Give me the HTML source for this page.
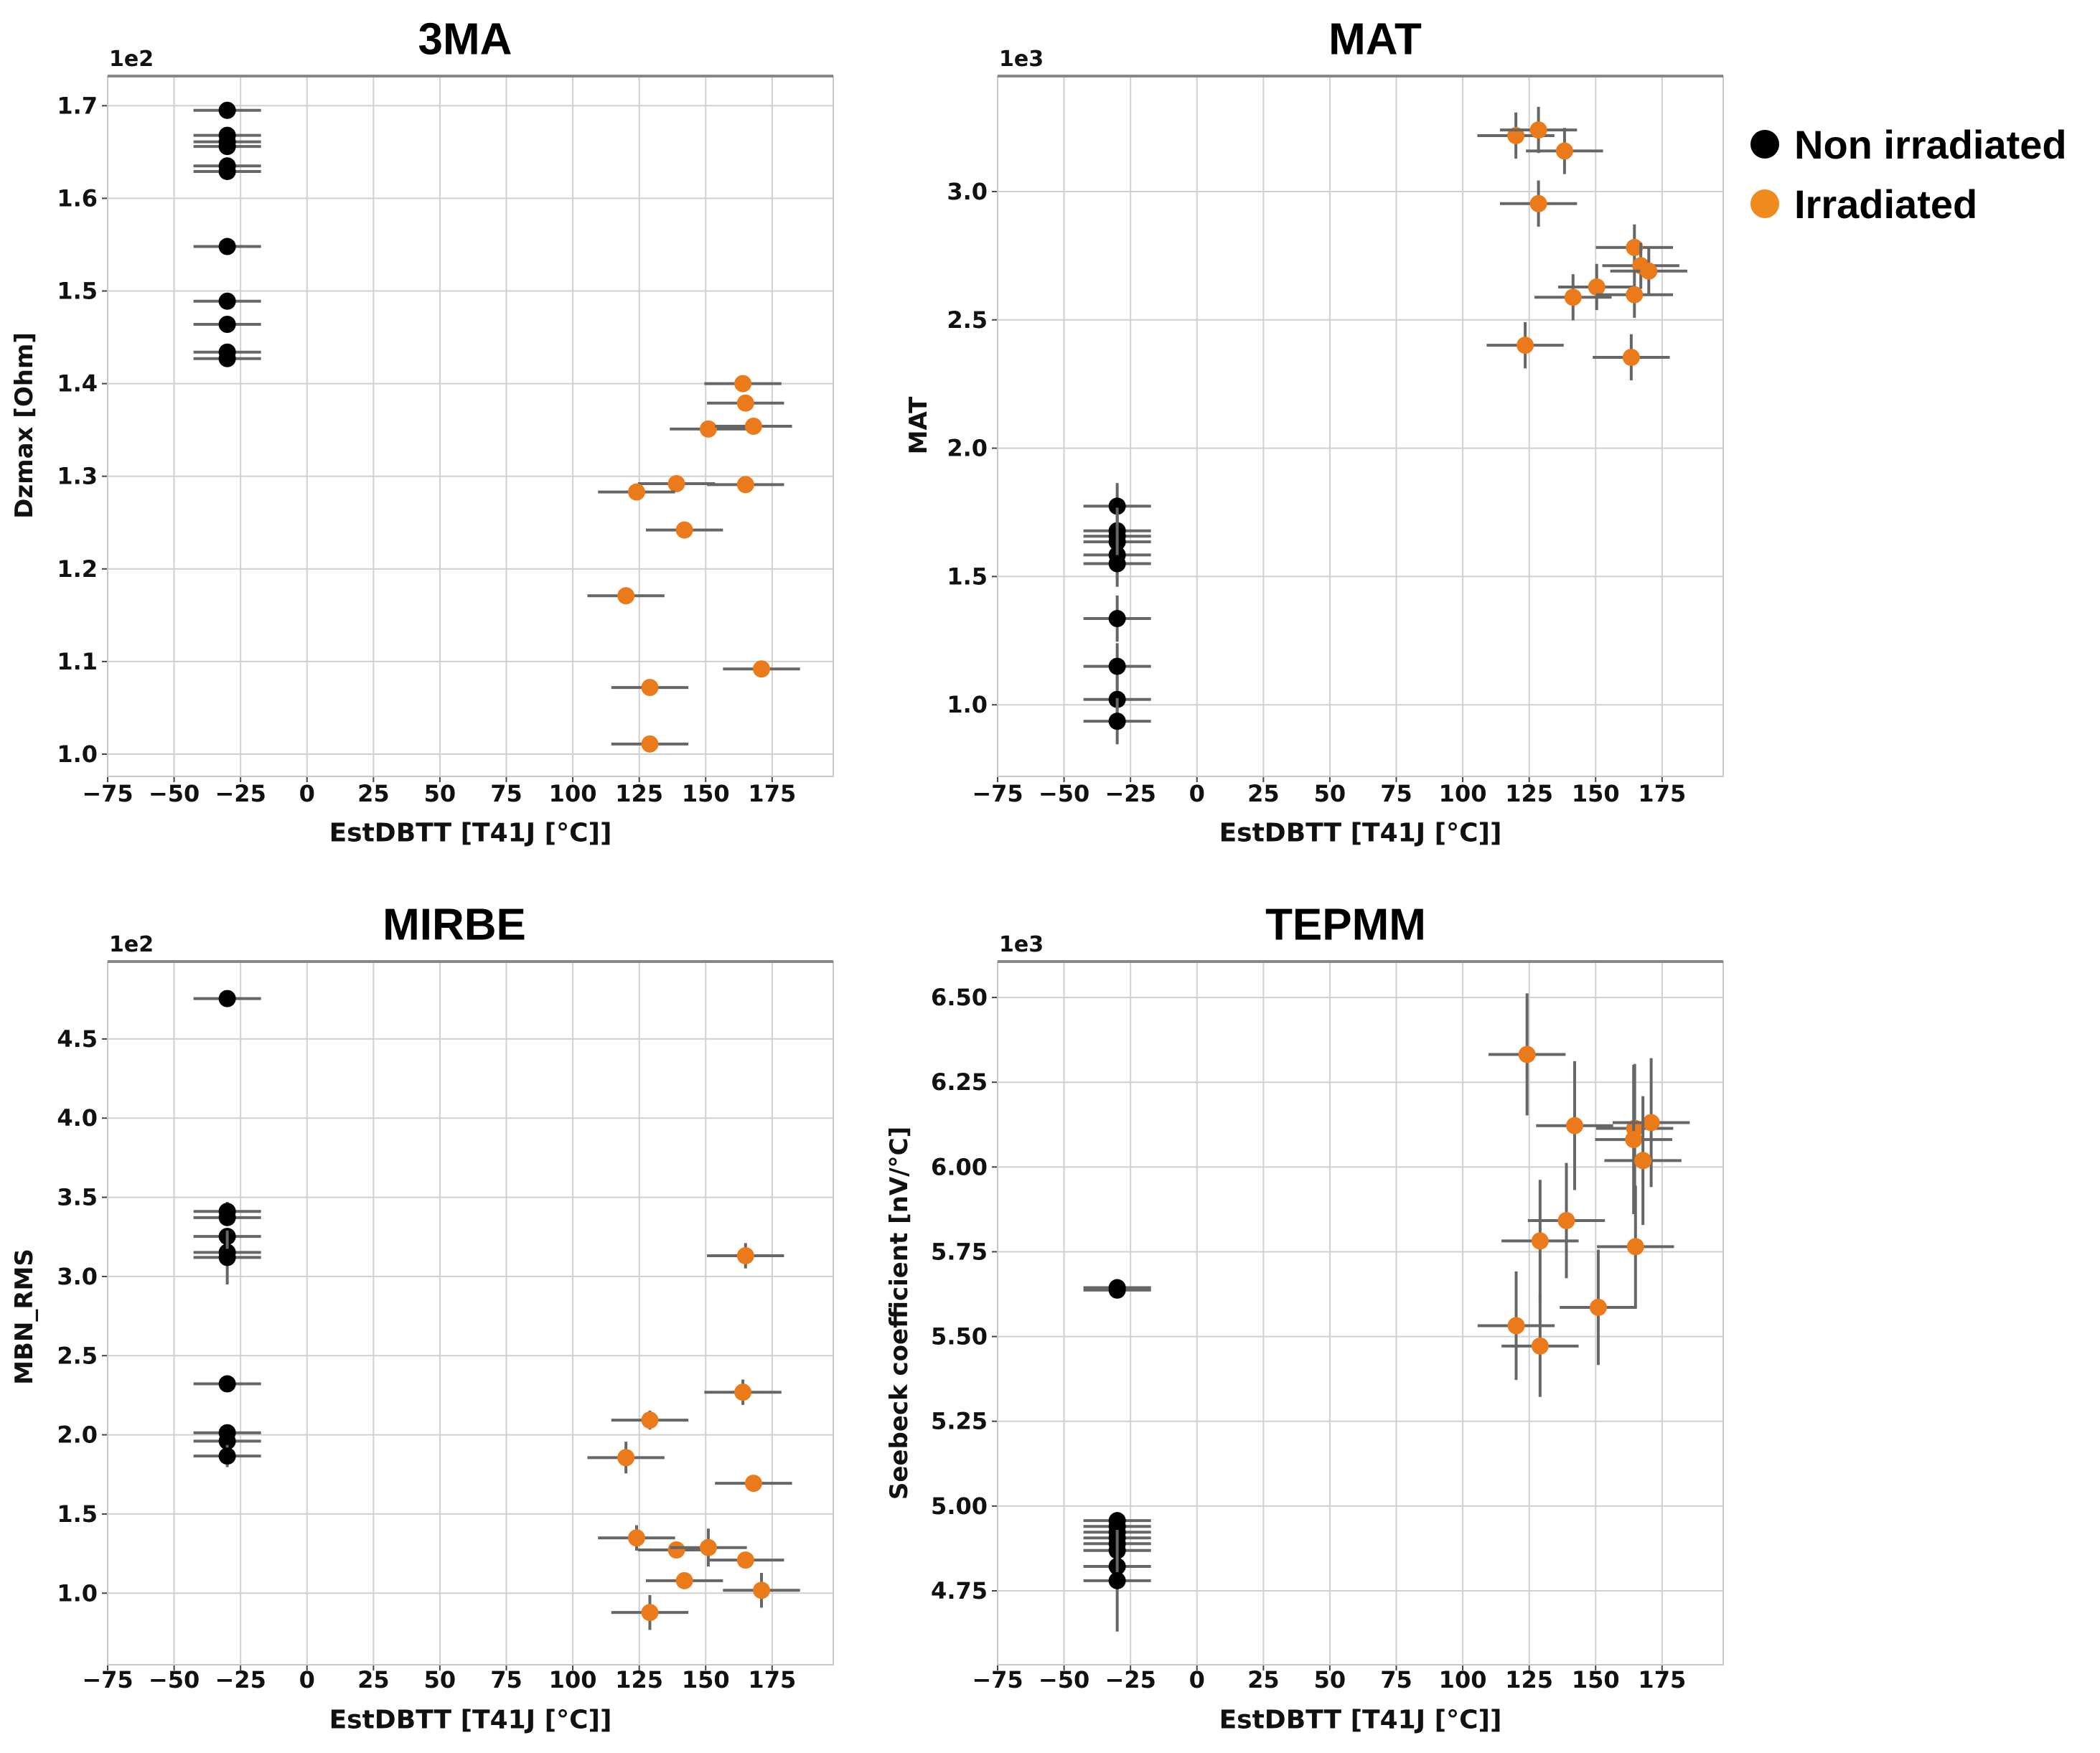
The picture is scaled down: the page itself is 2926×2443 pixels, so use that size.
<!DOCTYPE html>
<html><head><meta charset="utf-8"><style>
html,body{margin:0;padding:0;background:#fff;}
svg{display:block;font-family:"Liberation Sans",sans-serif;}
</style></head><body>
<svg id="chart" width="2926" height="2443" viewBox="0 0 2926 2443" xmlns="http://www.w3.org/2000/svg">
<rect width="2926" height="2443" fill="#fff"/>
<g>
<g><circle cx="2459" cy="201" r="20" fill="#000"/><text x="2500" y="221" font-size="56" font-weight="bold" fill="#000">Non irradiated</text></g>
<g><circle cx="2459" cy="284" r="20" fill="#f08a1c"/><text x="2500" y="304" font-size="56" font-weight="bold" fill="#000">Irradiated</text></g>
</g>
</svg>
<script>
// ---- data ----
const xTicks = [-75,-50,-25,0,25,50,75,100,125,150,175];
// Panel 1: 3MA
const p1NonY = [1.695,1.668,1.661,1.656,1.635,1.629,1.548,1.489,1.464,1.434,1.427];
const p1IrrX = [164,165,151,168,139,165,124,142,120,171,129,129];
const p1IrrY = [1.400,1.379,1.351,1.354,1.292,1.291,1.283,1.242,1.171,1.092,1.072,1.011];
const p1YTicks = [1.0,1.1,1.2,1.3,1.4,1.5,1.6,1.7];
// Panel 2: MAT
const p2NonY = [1.774,1.678,1.657,1.635,1.584,1.550,1.336,1.150,1.021,0.936];
const p2IrrX = [120,128.5,138.3,128.5,164.6,167,170,150.4,141.5,164.6,123.5,163.4];
const p2IrrY = [3.218,3.240,3.158,2.953,2.782,2.711,2.690,2.628,2.588,2.598,2.401,2.354];
const p2YTicks = [1.0,1.5,2.0,2.5,3.0];
// Panel 3: MIRBE
const p3NonY = [4.755,3.411,3.372,3.253,3.152,3.120,2.322,2.013,1.960,1.866];
const p3NonErr = [0.03,0.06,0.04,0.04,0.04,0.17,0.03,0.04,0.04,0.07];
const p3IrrX = [165,164,129,120,168,124,139,151,165,142,171,129];
const p3IrrY = [3.131,2.269,2.093,1.856,1.694,1.349,1.273,1.288,1.209,1.079,1.018,0.878];
const p3IrrErr = [0.08,0.08,0.06,0.1,0.04,0.08,0.05,0.12,0.04,0.05,0.11,0.11];
const p3YTicks = [1.0,1.5,2.0,2.5,3.0,3.5,4.0,4.5];
// Panel 4: TEPMM
const p4NonY = [5.644,5.637,4.957,4.940,4.923,4.906,4.889,4.869,4.822,4.780];
const p4NonErr = [0.01,0.01,0.01,0.01,0.01,0.01,0.01,0.01,0.02,0.15];
const p4IrrX = [124.2,142.1,164.7,164.3,170.9,167.8,139,129.1,165,151,120.1,129.1];
const p4IrrY = [6.332,6.122,6.114,6.081,6.131,6.019,5.842,5.782,5.765,5.586,5.532,5.472];
const p4IrrErr = [0.18,0.19,0.19,0.22,0.19,0.19,0.17,0.18,0.18,0.17,0.16,0.15];
const p4YTicks = [4.75,5.0,5.25,5.5,5.75,6.0,6.25,6.5];

const NS="http://www.w3.org/2000/svg";
const svg=document.getElementById('chart');
const DJ='"DejaVu Sans","Liberation Sans",sans-serif';
function mk(tag,attrs,parent){const e=document.createElementNS(NS,tag);for(const k in attrs)e.setAttribute(k,attrs[k]);parent.appendChild(e);return e;}

function panel(o){
  const g=mk('g',{},svg);
  
  
  const L=o.left,R=o.left+1011,T=o.top,B=o.bottom;
  const xmin=-75,xmax=198;
  const sx=v=>L+(v-xmin)/(xmax-xmin)*(R-L);
  const sy=v=>B-(v-o.ymin)/(o.ymax-o.ymin)*(B-T);
  xTicks.forEach(t=>{
    const l=mk('line',{x1:sx(t),x2:sx(t),y1:T,y2:B,stroke:'#d0d0d0','stroke-width':2},g);
    
    
    const tk=mk('line',{x1:sx(t),x2:sx(t),y1:B,y2:B+8,stroke:'#444','stroke-width':2},g);
    
    
    const tx=mk('text',{x:sx(t),y:o.xTickY,'font-size':32,'font-weight':'bold','font-family':DJ,'text-anchor':'middle','dominant-baseline':'central',fill:'#111'},g);
    tx.textContent=(t<0?'\u2212'+(-t):String(t));
    
    
  });
  o.yTicks.forEach(t=>{
    const l=mk('line',{x1:L,x2:R,y1:sy(t),y2:sy(t),stroke:'#d0d0d0','stroke-width':2},g);
    
    
    const tk=mk('line',{x1:L-8,x2:L,y1:sy(t),y2:sy(t),stroke:'#444','stroke-width':2},g);
    
    
    const tx=mk('text',{x:L-14,y:sy(t),'font-size':32,'font-weight':'bold','font-family':DJ,'text-anchor':'end','dominant-baseline':'central',fill:'#111'},g);
    tx.textContent=t.toFixed(o.dec);
    
    
  });
  const fr=mk('rect',{x:L,y:T,width:R-L,height:B-T,fill:'none',stroke:'#c8c8c8','stroke-width':2},g);
  
  
  const ts=mk('line',{x1:L,x2:R,y1:T,y2:T,stroke:'#888','stroke-width':4},g);
  
  
  const ti=mk('text',{x:o.titleX,y:o.titleY,'font-size':62,'font-weight':'bold','text-anchor':'middle','dominant-baseline':'central',fill:'#000'},g);
  ti.textContent=o.title;
  
  
  const ex=mk('text',{x:L+2,y:T-14,'font-size':30,'font-weight':'bold','font-family':DJ,fill:'#111'},g);
  ex.textContent=o.exp;
  
  
  const xl=mk('text',{x:(L+R)/2,y:o.xLabY,'font-size':36,'font-weight':'bold','font-family':DJ,'text-anchor':'middle','dominant-baseline':'central',fill:'#111'},g);
  xl.textContent='EstDBTT [T41J [\u00b0C]]';
  
  
  const yl=mk('text',{x:0,y:0,'font-size':34,'font-weight':'bold','font-family':DJ,'text-anchor':'middle','dominant-baseline':'central',fill:'#111',transform:`translate(${o.yLabX},${o.yLabY}) rotate(-90)`},g);
  yl.textContent=o.ylab;
  
  
  function pt(x,y,xe,ye,col,nm){
    const pg=mk('g',{},g);
    
    
    mk('line',{x1:sx(x-xe),x2:sx(x+xe),y1:sy(y),y2:sy(y),stroke:'#666','stroke-width':4},pg);
    if(ye>0) mk('line',{x1:sx(x),x2:sx(x),y1:sy(y-ye),y2:sy(y+ye),stroke:'#666','stroke-width':4},pg);
    mk('circle',{cx:sx(x),cy:sy(y),r:12,fill:col},pg);
  }
  o.nonY.forEach((y,i)=>pt(-30,y,12.7,o.nonErr?o.nonErr[i]:o.nonE,'#000','point-non-irradiated'));
  o.irrX.forEach((x,i)=>pt(x,o.irrY[i],14.5,o.irrErr?o.irrErr[i]:o.irrE,'#ea7a1a','point-irradiated'));
}
panel({name:'3ma',title:'3MA',exp:'1e2',ylab:'Dzmax [Ohm]',left:150,top:106,bottom:1082,ymin:0.976,ymax:1.732,yTicks:p1YTicks,dec:1,
  nonY:p1NonY,nonE:0.003,irrX:p1IrrX,irrY:p1IrrY,irrE:0.004,titleX:648,titleY:55,xTickY:1106,xLabY:1161,yLabX:34,yLabY:593});
panel({name:'mat',title:'MAT',exp:'1e3',ylab:'MAT',left:1390,top:106,bottom:1082,ymin:0.721,ymax:3.45,yTicks:p2YTicks,dec:1,
  nonY:p2NonY,nonE:0.09,irrX:p2IrrX,irrY:p2IrrY,irrE:0.09,titleX:1916,titleY:55,xTickY:1106,xLabY:1161,yLabX:1280,yLabY:593});
panel({name:'mirbe',title:'MIRBE',exp:'1e2',ylab:'MBN_RMS',left:150,top:1340,bottom:2320,ymin:0.548,ymax:4.989,yTicks:p3YTicks,dec:1,
  nonY:p3NonY,nonErr:p3NonErr,irrX:p3IrrX,irrY:p3IrrY,irrErr:p3IrrErr,titleX:633,titleY:1289,xTickY:2341,xLabY:2397,yLabX:34,yLabY:1835});
panel({name:'tepmm',title:'TEPMM',exp:'1e3',ylab:'Seebeck coefficient [nV/\u00b0C]',left:1390,top:1340,bottom:2320,ymin:4.532,ymax:6.606,yTicks:p4YTicks,dec:2,
  nonY:p4NonY,nonErr:p4NonErr,irrX:p4IrrX,irrY:p4IrrY,irrErr:p4IrrErr,titleX:1875,titleY:1289,xTickY:2341,xLabY:2397,yLabX:1253,yLabY:1830});
</script>
</body></html>
